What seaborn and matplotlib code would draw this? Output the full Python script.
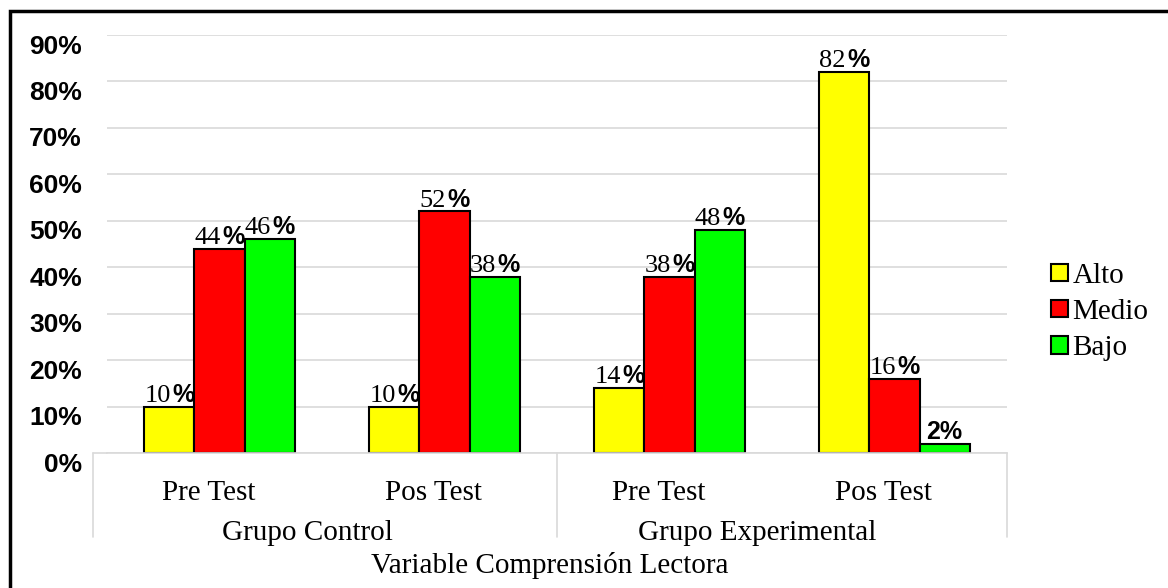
import matplotlib
matplotlib.use("Agg")
import matplotlib.pyplot as plt
import matplotlib.transforms as mtransforms
from matplotlib.patches import Patch, Rectangle
import seaborn as sns
import pandas as pd

# data
categories = ["Control Pre", "Control Pos", "Experimental Pre", "Experimental Pos"]
tick_labels = ["Pre Test", "Pos Test", "Pre Test", "Pos Test"]
groups = ["Grupo Control", "Grupo Experimental"]
levels = ["Alto", "Medio", "Bajo"]
alto = [10, 10, 14, 82]
medio = [44, 52, 38, 16]
bajo = [46, 38, 48, 2]

colors = {"Alto": "#FFFF00", "Medio": "#FF0000", "Bajo": "#00FF00"}

rows = []
for lvl, vals in zip(levels, [alto, medio, bajo]):
    for cat, v in zip(categories, vals):
        rows.append({"cat": cat, "level": lvl, "value": v})
df = pd.DataFrame(rows)

sns.set_style("white")
plt.rcParams["font.family"] = ["Liberation Serif", "DejaVu Serif"]
plt.rcParams["text.color"] = "black"
plt.rcParams["ytick.color"] = "black"
plt.rcParams["xtick.color"] = "black"

W, H = 1168, 588
fig = plt.figure(figsize=(W / 100, H / 100), dpi=100)
ax = fig.add_axes([107 / W, 135 / H, 900 / W, 418 / H])

sns.barplot(data=df, x="cat", y="value", hue="level", order=categories,
            hue_order=levels, palette=colors, width=0.667, gap=0,
            edgecolor="black", linewidth=1.5, saturation=1, legend=False, ax=ax)

ax.set_ylim(0, 90)
ax.set_xlim(-0.5, 3.5)
ax.set_yticks(range(0, 91, 10))
ax.set_yticklabels([f"{t}%" for t in range(0, 91, 10)],
                   fontfamily="Liberation Sans", fontweight="bold", fontsize=19)
ax.tick_params(axis="y", length=0, pad=18)
shift = mtransforms.ScaledTranslation(0, -9 / 100, fig.dpi_scale_trans)
for lab in ax.get_yticklabels():
    lab.set_transform(lab.get_transform() + shift)
ax.yaxis.grid(True, color="#d9d9d9", linewidth=1.2)
ax.set_axisbelow(True)
ax.set_xticks([])
ax.set_xlabel("")
ax.set_ylabel("")
for s in ["top", "right", "left"]:
    ax.spines[s].set_visible(False)
ax.spines["bottom"].set_color("#d9d9d9")
ax.spines["bottom"].set_linewidth(1.2)

# value labels: serif number + bold sans percent sign
for lvl, cont in zip(levels, ax.containers):
    for bar in cont:
        h = bar.get_height()
        xc = bar.get_x() + bar.get_width() / 2
        if h < 5:
            ax.annotate(f"{h:.0f}%", (xc, h), xytext=(0, 3.5), textcoords="offset points",
                        ha="center", va="baseline", fontsize=18, fontweight="bold",
                        fontfamily="Liberation Sans")
        else:
            ax.annotate(f"{h:.0f}", (xc, h), xytext=(1, 3.5), textcoords="offset points",
                        ha="right", va="baseline", fontsize=19)
            ax.annotate("%", (xc, h), xytext=(2, 3.5), textcoords="offset points",
                        ha="left", va="baseline", fontsize=18, fontweight="bold",
                        fontfamily="Liberation Sans")

# category / group labels and separators below the axis
trans = mtransforms.blended_transform_factory(ax.transData, ax.transAxes)
x_left = -0.5 - 14 / 225
ax.plot([x_left, -0.5], [0, 0], color="#d9d9d9", linewidth=1.2,
        transform=trans, clip_on=False)
for xs in [x_left, 1.5, 3.5]:
    ax.plot([xs, xs], [0, -0.2], color="#d9d9d9", linewidth=1.2,
            transform=trans, clip_on=False)
for i, t in enumerate(tick_labels):
    ax.text(i - 0.05, -0.1124, t, transform=trans, ha="center", va="baseline",
            fontsize=21)
for i, g in enumerate(groups):
    ax.text(0.5 + 2 * i - 0.11, -0.2081, g, transform=trans, ha="center",
            va="baseline", fontsize=21)

fig.text(550 / W, 1 - 573 / H, "Variable Comprensión Lectora", ha="center",
         va="baseline", fontsize=21)

handles = [Patch(facecolor=colors[l], edgecolor="black", linewidth=1.5) for l in levels]
fig.legend(handles, levels, loc="center left", bbox_to_anchor=(1036 / W, 1 - 312 / H),
           frameon=False, fontsize=21, handlelength=0.6, handleheight=0.55,
           handletextpad=0.15, labelspacing=0.35, borderpad=0)

# outer border (top and left visible, the rest runs off the image)
fig.patches.append(Rectangle((10 / W, -0.05), 1.2, 1 - 11 / H + 0.05,
                             transform=fig.transFigure, fill=False,
                             edgecolor="black", linewidth=2.5))

fig.savefig("out.png", dpi=100)
